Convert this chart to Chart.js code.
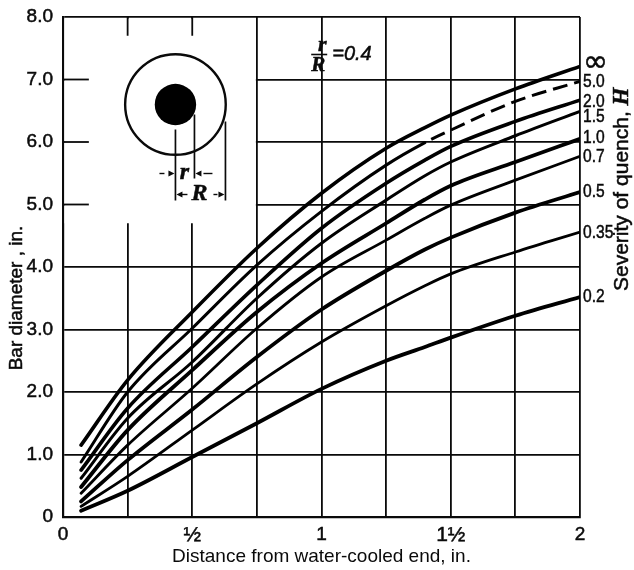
<!DOCTYPE html>
<html><head><meta charset="utf-8">
<style>html,body{margin:0;padding:0;background:#fff}canvas{display:block}</style>
<script src="https://cdn.jsdelivr.net/npm/chart.js@4"></script>
</head><body>
<div style="width:634px;height:570px"><canvas id="c" width="634" height="570"></canvas></div>
<script>
// Distance from water-cooled end, in.
const distances = [0.07, 0.25, 0.5, 0.75, 1, 1.25, 1.4, 1.5, 1.75, 2];
// Bar diameter, in., one array per severity of quench H
const hInf  = [1.15, 2.19, 3.28, 4.30, 5.18, 5.90, 6.23, 6.43, 6.85, 7.21];
const h5_0  = [0.88, 2.00, 3.02, 4.03, 4.89, 5.63, 5.99, 6.19, 6.65, 6.97];
const h2_0  = [0.75, 1.74, 2.72, 3.71, 4.62, 5.34, 5.71, 5.93, 6.33, 6.67];
const h1_5  = [0.62, 1.58, 2.48, 3.50, 4.38, 5.07, 5.46, 5.68, 6.10, 6.49];
const h1_0  = [0.48, 1.39, 2.35, 3.28, 4.06, 4.70, 5.08, 5.30, 5.68, 6.05];
const h0_7  = [0.38, 1.15, 2.06, 3.02, 3.84, 4.43, 4.78, 4.99, 5.39, 5.77];
const h0_5  = [0.25, 0.91, 1.72, 2.56, 3.32, 3.94, 4.28, 4.47, 4.87, 5.20];
const h0_35 = [0.17, 0.65, 1.39, 2.13, 2.80, 3.38, 3.70, 3.89, 4.24, 4.56];
const h0_2  = [0.10, 0.42, 0.96, 1.50, 2.05, 2.50, 2.72, 2.87, 3.22, 3.52];
const seriesValues = [hInf, h5_0, h2_0, h1_5, h1_0, h0_7, h0_5, h0_35, h0_2];
const seriesLabels = ['∞', '5.0', '2.0', '1.5', '1.0', '0.7', '0.5', '0.35', '0.2'];
const seriesWidths = [3.6, 3, 3.6, 3, 3.8, 2.8, 3.8, 2.8, 3.8];
const labelNudges  = [-3, 0, 2, 5, -1, 0, 0, 1, 0];
const xTickLabels = { 0: '0', 0.5: '½', 1: '1', 1.5: '1½', 2: '2' };
const yTickLabels = { 0: '0', 1: '1.0', 2: '2.0', 3: '3.0', 4: '4.0', 5: '5.0', 6: '6.0', 7: '7.0', 8: '8.0' };
const dashFrom = 1.4;        // the H = 5.0 curve turns dashed here

const INK = '#0a0a0a';
const SANS = '"Liberation Sans", Arial, sans-serif';
const SERIF = '"Liberation Serif", serif';

function text(ctx, str, x, y, font, opts) {
  opts = opts || {};
  ctx.save();
  ctx.fillStyle = INK;
  ctx.strokeStyle = INK;
  ctx.lineWidth = opts.stroke === undefined ? 0.5 : opts.stroke;
  ctx.font = font;
  ctx.textAlign = opts.align || 'center';
  ctx.textBaseline = 'middle';
  ctx.translate(x, y);
  if (opts.rot) ctx.rotate(opts.rot);
  if (opts.sx) ctx.scale(opts.sx, 1);
  ctx.fillText(str, 0, 0);
  if (ctx.lineWidth > 0 && opts.stroke !== 0) ctx.strokeText(str, 0, 0);
  ctx.restore();
}
function line(ctx, x1, y1, x2, y2, w) {
  ctx.beginPath(); ctx.moveTo(x1, y1); ctx.lineTo(x2, y2);
  ctx.lineWidth = w; ctx.strokeStyle = INK; ctx.stroke();
}
function arrow(ctx, x, y, dir) {
  ctx.beginPath();
  ctx.moveTo(x, y); ctx.lineTo(x - dir * 6, y - 3); ctx.lineTo(x - dir * 6, y + 3); ctx.closePath();
  ctx.fillStyle = INK; ctx.fill();
}

const insetPlugin = {
  id: 'inset',
  beforeDatasetsDraw(chart) {
    const { ctx, scales: { x, y }, chartArea: a } = chart;
    // the inset panel clears the grid, leaving short stubs
    ctx.save();
    ctx.fillStyle = '#fff';
    ctx.fillRect(a.left + 1.5, a.top + 1.5, x.getPixelForValue(0.75) - a.left - 2.5, y.getPixelForValue(4.7) - a.top - 1.5);
    [0.25, 0.5].forEach(v => {
      const px = x.getPixelForValue(v);
      line(ctx, px, a.top, px, y.getPixelForValue(7.7), 1.8);
    });
    [7, 6, 5].forEach(v => {
      const py = y.getPixelForValue(v);
      line(ctx, a.left, py, x.getPixelForValue(0.1), py, 1.8);
    });
    ctx.restore();
  },
  afterDatasetsDraw(chart) {
    const { ctx, scales: { x, y }, chartArea: a } = chart;
    ctx.save();
    const cx = x.getPixelForValue(0.435), cy = y.getPixelForValue(6.6);
    ctx.beginPath(); ctx.arc(cx, cy, 50.3, 0, Math.PI * 2);
    ctx.lineWidth = 2.4; ctx.strokeStyle = INK; ctx.stroke();
    ctx.beginPath(); ctx.arc(cx, cy, 20.7, 0, Math.PI * 2);
    ctx.fillStyle = '#000'; ctx.fill();
    line(ctx, cx, cy + 25, cx, cy + 96, 1.7);
    line(ctx, cx + 19, cy + 10, cx + 19, cy + 74, 1.7);
    line(ctx, cx + 50, cy + 17, cx + 50, cy + 96, 1.7);
    // r dimension
    line(ctx, cx - 16, cy + 69, cx - 11, cy + 69, 1.4); arrow(ctx, cx - 1, cy + 69, 1);
    arrow(ctx, cx + 20, cy + 69, -1); line(ctx, cx + 28, cy + 69, cx + 37, cy + 69, 1.4);
    text(ctx, 'r', cx + 9, cy + 68, 'italic bold 24px ' + SERIF);
    // R dimension
    arrow(ctx, cx + 1, cy + 90, -1); line(ctx, cx + 6, cy + 90, cx + 12, cy + 90, 1.4);
    line(ctx, cx + 38, cy + 90, cx + 42, cy + 90, 1.4); arrow(ctx, cx + 49, cy + 90, 1);
    text(ctx, 'R', cx + 24, cy + 89, 'italic bold 24px ' + SERIF);

    // r/R = 0.4 note
    const nx = x.getPixelForValue(0.995), ny = y.getPixelForValue(7.4);
    text(ctx, 'r', nx + 2, ny - 9, 'italic bold 22px ' + SERIF);
    line(ctx, nx - 9, ny, nx + 7, ny, 1.6);
    text(ctx, 'R', nx - 2, ny + 11, 'italic bold 21px ' + SERIF);
    text(ctx, '=0.4', nx + 12, ny, 'italic 20px ' + SANS, { align: 'left' });

    // H labels at the curve ends
    seriesLabels.forEach((lab, i) => {
      const vals = seriesValues[i];
      const py = y.getPixelForValue(vals[vals.length - 1]) + labelNudges[i];
      if (lab === '∞') text(ctx, lab, a.right + 3, py, '30px "DejaVu Sans", sans-serif', { align: 'left' });
      else text(ctx, lab, a.right + 3, py, '19px ' + SANS, { align: 'left', sx: 0.82 });
    });

    // Axis titles placed away from the axis centre
    text(ctx, 'Bar diameter , in.', 17, 298, '19px ' + SANS, { rot: -Math.PI / 2 });
    ctx.save();
    ctx.translate(622, 291);
    ctx.rotate(-Math.PI / 2);
    text(ctx, 'Severity of quench, ', 0, 0, '21px ' + SANS, { align: 'left' });
    ctx.font = '21px ' + SANS;
    const w = ctx.measureText('Severity of quench, ').width;
    text(ctx, 'H', w, 0, 'italic bold 23px ' + SERIF, { align: 'left' });
    ctx.restore();
    ctx.restore();
  }
};

new Chart(document.getElementById('c'), {
  type: 'line',
  data: {
    datasets: seriesLabels.map((lab, i) => ({
      label: 'H = ' + lab,
      data: distances.map((d, k) => ({ x: d, y: seriesValues[i][k] })),
      borderColor: '#000',
      borderWidth: seriesWidths[i],
      borderCapStyle: 'round',
      pointRadius: 0,
      cubicInterpolationMode: 'monotone',
      segment: lab === '5.0' ? {
        borderDash: c => c.p0.parsed.x >= dashFrom ? [15, 7] : undefined,
        borderDashOffset: c => c.p0.parsed.x >= dashFrom ? 15 : 0,
        borderCapStyle: c => c.p0.parsed.x >= dashFrom ? 'butt' : 'round'
      } : undefined
    }))
  },
  options: {
    responsive: false,
    animation: false,
    layout: { padding: { top: 17, right: 54, left: 0, bottom: 0 } },
    plugins: { legend: { display: false }, tooltip: { enabled: false } },
    scales: {
      x: {
        type: 'linear', min: 0, max: 2,
        afterFit(s) { s.height = 53; s.paddingLeft = 0; s.paddingRight = 0; },
        ticks: {
          stepSize: 0.25, autoSkip: false, maxRotation: 0, padding: 6, color: INK,
          textStrokeColor: INK, textStrokeWidth: 0.5,
          font: c => ({ family: SANS, size: (c.tick && c.tick.value % 1 === 0.5) ? 21 : 19 }),
          callback: v => xTickLabels[v] ?? ''
        },
        grid: { color: INK, lineWidth: 1.8, drawTicks: false },
        border: { color: INK, width: 2.2 },
        title: { display: true, text: 'Distance from water-cooled end, in.', color: INK, font: { family: SANS, size: 19 }, padding: { top: 0, bottom: 2 } }
      },
      y: {
        type: 'linear', min: 0, max: 8,
        afterFit(s) { s.width = 63; s.paddingTop = 0; s.paddingBottom = 0; },
        ticks: {
          stepSize: 1, autoSkip: false, padding: 10, color: INK,
          textStrokeColor: INK, textStrokeWidth: 0.5,
          font: { family: SANS, size: 19 },
          callback: v => yTickLabels[v] ?? ''
        },
        grid: { color: INK, lineWidth: 1.8, drawTicks: false },
        border: { color: INK, width: 2.2 }
      }
    }
  },
  plugins: [insetPlugin]
});
</script>
</body></html>
